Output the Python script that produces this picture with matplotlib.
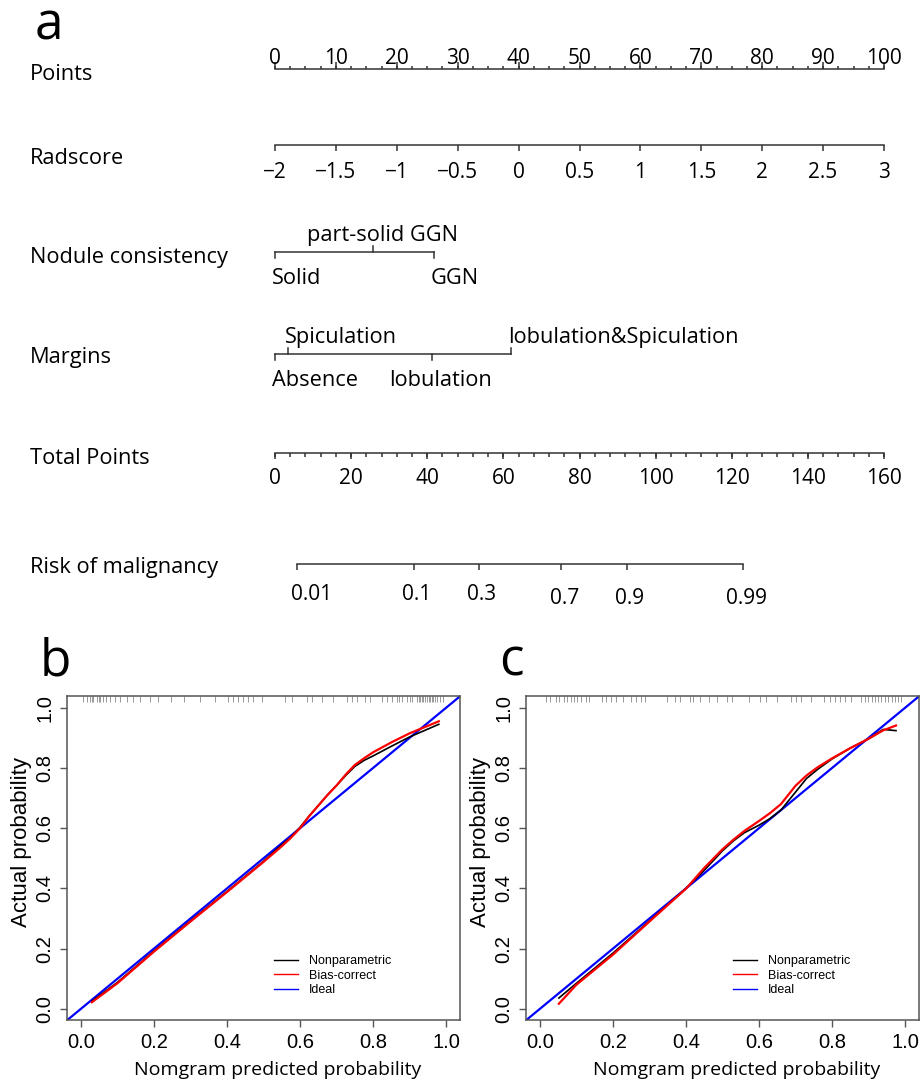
import numpy as np
import matplotlib.pyplot as plt
from matplotlib.lines import Line2D

# ---- nomogram (panel a) ----
points_labels = [0, 10, 20, 30, 40, 50, 60, 70, 80, 90, 100]
radscore_labels = [-2, -1.5, -1, -0.5, 0, 0.5, 1, 1.5, 2, 2.5, 3]
nodule_levels = ["Solid", "part-solid GGN", "GGN"]
nodule_pts = [0, 16.1, 26.1]
margin_levels = ["Absence", "Spiculation", "lobulation", "lobulation&Spiculation"]
margin_pts = [0, 2.2, 25.7, 38.7]
total_labels = [0, 20, 40, 60, 80, 100, 120, 140, 160]
risk_labels = ["0.01", "0.1", "0.3", "0.7", "0.9", "0.99"]
risk_total_pts = [5.8, 36.4, 53.6, 75.2, 92.4, 123.0]

# ---- calibration curves (panels b, c) ----
b_x = [0.03, 0.1, 0.2, 0.3, 0.4, 0.5, 0.55, 0.575, 0.6, 0.625, 0.65, 0.675, 0.7, 0.725,
       0.75, 0.775, 0.8, 0.85, 0.9, 0.98]
b_nonpar = [0.025, 0.088, 0.192, 0.292, 0.39, 0.49, 0.545, 0.57, 0.603, 0.64, 0.675, 0.71,
            0.742, 0.775, 0.805, 0.825, 0.84, 0.872, 0.903, 0.945]
b_bias = [0.022, 0.085, 0.19, 0.29, 0.388, 0.488, 0.54, 0.568, 0.60, 0.64, 0.675, 0.71,
          0.742, 0.778, 0.81, 0.832, 0.852, 0.885, 0.915, 0.955]
b_rug = [0.005, 0.016, 0.025, 0.03, 0.034, 0.043, 0.05, 0.052, 0.061, 0.07, 0.079, 0.093, 0.107,
         0.125, 0.143, 0.161, 0.189, 0.212, 0.246, 0.283, 0.326, 0.367, 0.403, 0.417, 0.431,
         0.445, 0.458, 0.472, 0.495, 0.559, 0.577, 0.618, 0.632, 0.659, 0.691, 0.728, 0.741,
         0.755, 0.778, 0.792, 0.824, 0.837, 0.851, 0.865, 0.872, 0.879, 0.892, 0.9, 0.906,
         0.92, 0.925, 0.929, 0.934, 0.938, 0.943, 0.947, 0.952, 0.956, 0.96, 0.965, 0.97,
         0.974, 0.983, 0.992]
c_x = [0.052, 0.1, 0.2, 0.3, 0.4, 0.45, 0.5, 0.53, 0.56, 0.6, 0.63, 0.66, 0.7, 0.73, 0.76,
       0.8, 0.85, 0.9, 0.94, 0.975]
c_nonpar = [0.036, 0.085, 0.185, 0.292, 0.40, 0.46, 0.525, 0.558, 0.585, 0.61, 0.632, 0.66,
            0.72, 0.765, 0.795, 0.83, 0.866, 0.897, 0.928, 0.924]
c_bias = [0.017, 0.08, 0.18, 0.29, 0.399, 0.468, 0.53, 0.562, 0.591, 0.624, 0.65, 0.68,
          0.741, 0.775, 0.802, 0.832, 0.866, 0.897, 0.925, 0.941]
c_rug = [0.017, 0.029, 0.043, 0.052, 0.066, 0.075, 0.084, 0.094, 0.103, 0.112, 0.126, 0.135,
         0.17, 0.181, 0.195, 0.209, 0.227, 0.25, 0.264, 0.278, 0.287, 0.347, 0.37, 0.384,
         0.411, 0.42, 0.439, 0.462, 0.485, 0.512, 0.526, 0.572, 0.604, 0.618, 0.65, 0.687,
         0.7, 0.715, 0.742, 0.779, 0.793, 0.807, 0.821, 0.835, 0.853, 0.88, 0.89, 0.899,
         0.908, 0.917, 0.926, 0.935, 0.944, 0.953, 0.963, 0.972, 0.981, 0.99]

W, H = 921, 1082
fig = plt.figure(figsize=(W / 100, H / 100), dpi=100)

NOMO_H = 650          # height (px) of the nomogram block
X0, X1 = 275, 884     # pixel span of the 0-100 points scale
LC = "#333333"
NFONT = "Open Sans"


def fx(px):
    return px / W


def fy(py):
    return 1 - py / H


def scale_axes(lo, hi):
    # transparent overlay axes whose x units run lo..hi over the X0..X1 span
    a = fig.add_axes([0, 1 - NOMO_H / H, 1, NOMO_H / H])
    u = (hi - lo) / (X1 - X0)
    a.set_xlim(lo - X0 * u, lo + (W - X0) * u)
    a.set_ylim(NOMO_H, 0)
    a.axis("off")
    a.patch.set_alpha(0)
    return a


ax_pts = scale_axes(0, 100)
ax_rad = scale_axes(radscore_labels[0], radscore_labels[-1])
ax_tot = scale_axes(0, 160)

kw_line = dict(color=LC, lw=1.1)

# row labels
for name, y in [("Points", 75), ("Radscore", 159), ("Nodule consistency", 257),
                ("Margins", 357), ("Total Points", 459), ("Risk of malignancy", 568)]:
    fig.text(fx(30), fy(y), name, fontsize=15.7, family=NFONT, va="center", ha="left")

fig.text(fx(35), fy(39), "a", fontsize=37, family=NFONT, va="baseline", ha="left")

# Points
y = 69
ax_pts.plot([0, 100], [y, y], **kw_line)
ax_pts.vlines(np.arange(0, 100.1, 2.5), y - 3.5, y, **kw_line)
ax_pts.vlines(points_labels, y - 7, y, **kw_line)
for v in points_labels:
    ax_pts.text(v, y - 11, str(v), fontsize=15, family=NFONT, ha="center", va="center")

# Radscore
y = 145
ax_rad.plot([radscore_labels[0], radscore_labels[-1]], [y, y], **kw_line)
ax_rad.vlines(radscore_labels, y, y + 6, **kw_line)
for v in radscore_labels:
    s = ("%g" % v).replace("-", "\u2212")
    ax_rad.text(v, y + 27, s, fontsize=15, family=NFONT, ha="center", va="center")


def cat_row(levels, pts, y, has):
    ax_pts.plot([min(pts), max(pts)], [y, y], **kw_line)
    for i, (lab, p) in enumerate(zip(levels, pts)):
        above = i % 2 == 1
        ax_pts.plot([p, p], [y, y - 6 if above else y + 6], **kw_line)
        ty = y - 17 if above else y + 27
        dx = -0.5 if has[i] == "left" else 1.5
        ax_pts.text(p + dx, ty, lab, fontsize=15.7, family=NFONT, ha=has[i], va="center")


cat_row(nodule_levels, nodule_pts, 252, ["left", "center", "left"])
cat_row(margin_levels, margin_pts, 354, ["left", "left", "center", "left"])

# Total points
y = 453
ax_tot.plot([0, 160], [y, y], **kw_line)
ax_tot.vlines(np.arange(0, 160.1, 4), y, y + 3.5, **kw_line)
ax_tot.vlines(total_labels, y, y + 6, **kw_line)
for v in total_labels:
    ax_tot.text(v, y + 26, str(v), fontsize=15, family=NFONT, ha="center", va="center")

# Risk of malignancy
y = 564
ax_tot.plot([risk_total_pts[0], risk_total_pts[-1]], [y, y], **kw_line)
ax_tot.vlines(risk_total_pts, y, y + 6, **kw_line)
for i, (lab, p) in enumerate(zip(risk_labels, risk_total_pts)):
    ha = "left" if i == 0 else "center"
    ax_tot.text(p - (1.5 if i == 0 else -0.8), y + 31 + (3 if i >= 3 else 0), lab,
                fontsize=15, family=NFONT, ha=ha, va="center")


# ---- calibration panels ----
def calib(left, letter, xs, nonpar, bias, rug):
    ax = fig.add_axes([fx(left), fy(1020), 393 / W, 324 / H])
    ax.axline((0, 0), (1, 1), color="blue", lw=1.6)
    ax.plot(xs, nonpar, color="black", lw=1.2)
    ax.plot(xs, bias, color="red", lw=1.6)
    ax.vlines(rug, 0.982, 1.0, color="#888888", lw=0.6, transform=ax.get_xaxis_transform())
    ax.set_xlim(-0.038, 1.038)
    ax.set_ylim(-0.037, 1.039)
    ticks = [0, 0.2, 0.4, 0.6, 0.8, 1.0]
    ax.set_xticks(ticks)
    ax.set_yticks(ticks)
    ax.set_xticklabels(["%.1f" % t for t in ticks], family="Liberation Sans", fontsize=14.5)
    ax.set_yticklabels(["%.1f" % t for t in ticks], family="Liberation Sans", fontsize=14.5,
                       rotation=90, va="center")
    ax.tick_params(length=5, width=1, color="#555555", pad=4)
    for s in ax.spines.values():
        s.set_color("#555555")
        s.set_linewidth(1.1)
    ax.set_ylabel("Actual probability", family="Liberation Sans", fontsize=16)
    ax.yaxis.set_label_coords(-0.09, 0.55)
    ax.set_xlabel("Nomgram predicted probability", family=NFONT, fontsize=14)
    ax.xaxis.set_label_coords(0.537, -0.128)
    handles = [Line2D([], [], color="black", lw=1),
               Line2D([], [], color="red", lw=1),
               Line2D([], [], color="blue", lw=1)]
    ax.legend(handles, ["Nonparametric", "Bias-correct", "Ideal"], loc="upper left",
              bbox_to_anchor=(0.527, 0.2), frameon=False, borderpad=0, borderaxespad=0,
              handlelength=1.9, handletextpad=0.9, labelspacing=0.2,
              prop=dict(family="Liberation Sans", size=9))
    fig.text(fx(left - 27), fy(675), letter, fontsize=37, family=NFONT, va="baseline")
    return ax


calib(67, "b", b_x, b_nonpar, b_bias, b_rug)
calib(526, "c", c_x, c_nonpar, c_bias, c_rug)

fig.savefig("out.png", dpi=100)
